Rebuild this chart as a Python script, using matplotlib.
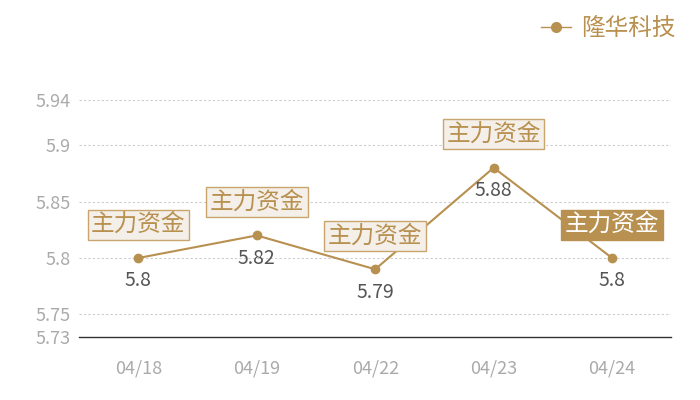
import matplotlib
matplotlib.use("Agg")
import matplotlib.pyplot as plt
from matplotlib.lines import Line2D

plt.rcParams["font.family"] = ["Noto Sans CJK SC", "DejaVu Sans"]

dates = ["04/18", "04/19", "04/22", "04/23", "04/24"]
prices = [5.80, 5.82, 5.79, 5.88, 5.80]
price_labels = ["5.8", "5.82", "5.79", "5.88", "5.8"]
yticks = [5.73, 5.75, 5.8, 5.85, 5.9, 5.94]
ytick_labels = ["5.73", "5.75", "5.8", "5.85", "5.9", "5.94"]
tag = "主力资金"
series_name = "隆华科技"

GOLD = "#b8904f"
GREY = "#aaaaaa"

fig = plt.figure(figsize=(7, 4), dpi=100)
ax = fig.add_axes([0.113, 0.1575, 0.846, 0.5925])

x = list(range(len(dates)))
ax.plot(x, prices, color=GOLD, lw=1.5, marker="o", ms=6, zorder=3)

ax.set_xlim(-0.5, len(dates) - 0.5)
ax.set_ylim(5.73, 5.94)
ax.set_yticks(yticks)
ax.set_yticklabels(ytick_labels)
ax.set_xticks(x)
ax.set_xticklabels(dates)
ax.tick_params(axis="both", length=0, colors=GREY, labelsize=13)
ax.tick_params(axis="x", pad=16)
ax.tick_params(axis="y", pad=6)

for t in yticks[1:]:
    ax.axhline(t, color="#cccccc", lw=0.8, ls=(0, (2, 2)), zorder=1)

for s in ["top", "right", "left"]:
    ax.spines[s].set_visible(False)
ax.spines["bottom"].set_color("#333333")
ax.spines["bottom"].set_linewidth(1)

for i, (p, lab) in enumerate(zip(prices, price_labels)):
    ax.annotate(lab, (i, p), xytext=(0, -16.5), textcoords="offset points",
                ha="center", va="center", fontsize=14, color="#555555")
    last = i == len(prices) - 1
    ax.annotate(tag, (i, p), xytext=(0, 24), textcoords="offset points",
                ha="center", va="center", fontsize=17,
                color="white" if last else GOLD,
                bbox=dict(boxstyle="square,pad=0.15",
                          fc=GOLD if last else "#f4efe8",
                          ec="#c9a56e" if not last else GOLD, lw=1),
                annotation_clip=False, zorder=4)

handle = Line2D([], [], color=GOLD, marker="o", ms=7, lw=1)
fig.legend([handle], [series_name], loc="upper right", bbox_to_anchor=(0.995, 1.01),
           frameon=False, fontsize=17, labelcolor=GOLD, handlelength=1.3,
           handletextpad=0.4)

fig.savefig("out.png", dpi=100)
